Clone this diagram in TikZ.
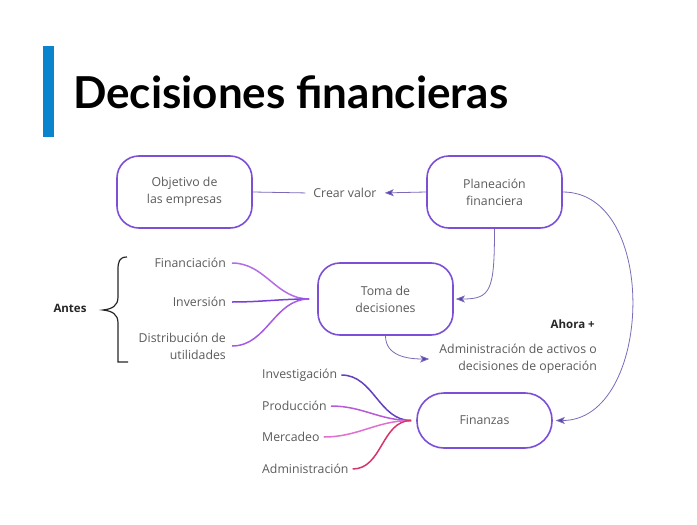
\documentclass[tikz,border=0pt]{standalone}
\usepackage{fontspec}
\setmainfont{Open Sans}
\newfontfamily\titlefont{Lato}
\usetikzlibrary{arrows.meta}

\definecolor{boxline}{HTML}{7B4FD6}
\definecolor{txtgray}{HTML}{5A5A5A}
\definecolor{arrowline}{HTML}{7A6AB8}
\definecolor{arrowhead}{HTML}{5B3FB0}
\definecolor{barblue}{HTML}{0A84CC}
\definecolor{finc}{HTML}{B36BE6}
\definecolor{invc}{HTML}{7A3FD8}
\definecolor{distc}{HTML}{A45AE6}
\definecolor{invesc}{HTML}{6240C0}
\definecolor{prodc}{HTML}{B75AD8}
\definecolor{mercc}{HTML}{E070D0}
\definecolor{adminc}{HTML}{D6336C}

\tikzset{
    box/.style={draw=boxline, line width=1.6pt, rounded corners=22pt,
        minimum width=135pt, minimum height=72pt, align=center,
        text=txtgray, font=\fontsize{12.3}{17}\selectfont},
    label/.style={text=txtgray, inner sep=4pt, align=right,
        font=\fontsize{12.3}{17}\selectfont},
    boldlabel/.style={text=black!85, inner sep=2pt,
        font=\fontsize{11.5}{14}\selectfont\bfseries},
    arrow/.style={draw=arrowline, line width=0.8pt,
        -{Stealth[length=9pt,width=7pt,inset=2pt,fill=arrowhead]}},
    branch/.style={line width=1.5pt}
}

\begin{document}
\begin{tikzpicture}[x=1pt,y=-1pt]
    \useasboundingbox (0,0) rectangle (697,525);

    % title
    \fill[barblue] (43,46) rectangle (54,137);
    \node[anchor=base west, inner sep=0pt, font=\titlefont\fontsize{44}{50}\selectfont\bfseries]
        (titulo) at (73,108) {Decisiones financieras};

    % main boxes
    \node[box] (objetivo) at (184.5,192) {Objetivo de\\las empresas};
    \node[box] (planeacion) at (494.5,192) {Planeación\\financiera};
    \node[label] (crear) at (345,193) {Crear valor};
    \node[box] (toma) at (385.5,299) {Toma de\\decisiones};
    \node[box, minimum height=55pt, rounded corners=27pt] (finanzas) at (484.5,420.5) {Finanzas};

    \draw[arrowline, line width=0.8pt, shorten >=4pt] (objetivo.east) -- (crear.west);
    \draw[arrow, shorten >=4pt] (planeacion.west) -- (crear.east);
    \draw[arrow] (planeacion.south) .. controls +(0,62) and +(35,0) .. ([xshift=2pt]toma.east);
    \draw[arrow] (planeacion.east) .. controls +(97,0) and +(97,0) .. ([xshift=3pt]finanzas.east);

    % ahora
    \node[boldlabel, anchor=east] (ahora) at (597,324) {Ahora +};
    \node[label, anchor=east] (admin) at (601,359) {Administración de activos o\\decisiones de operación};
    \draw[arrow] (toma.south) .. controls +(0,20) and +(-22,0) .. ([xshift=-6pt]admin.west);

    % antes
    \node[boldlabel] (antes) at (70,308) {Antes};
    \draw[black!85, line width=1.2pt] (127,257) .. controls (119,257) and (118,262) .. (118,270)
        -- (118,297) .. controls (118,306) and (112,309) .. (103,310)
        .. controls (112,311) and (118,314) .. (118,323) -- (118,362) -- (128,362);

    \node[label, anchor=east] (fin) at (230,263) {Financiación};
    \node[label, anchor=east] (inv) at (230,302) {Inversión};
    \node[label, anchor=east] (dist) at (230,346) {Distribución de\\utilidades};
    \coordinate (tomain) at ([xshift=-8pt]toma.west);
    \draw[branch, finc] ([xshift=2pt]fin.east) to[out=0,in=180] (tomain);
    \draw[branch, invc] ([xshift=2pt]inv.east) to[out=0,in=180] (tomain);
    \draw[branch, distc] ([xshift=2pt]dist.east) to[out=0,in=180] (tomain);

    % areas
    \node[label, anchor=west] (investigacion) at (258,375) {Investigación};
    \node[label, anchor=west] (produccion) at (258,406) {Producción};
    \node[label, anchor=west] (mercadeo) at (258,437) {Mercadeo};
    \node[label, anchor=west] (administracion) at (258,469) {Administración};
    \coordinate (finin) at ([xshift=-5pt]finanzas.west);
    \draw[branch, invesc] (investigacion.east) to[out=0,in=180] (finin);
    \draw[branch, prodc] (produccion.east) to[out=0,in=180] (finin);
    \draw[branch, mercc] (mercadeo.east) to[out=0,in=180] (finin);
    \draw[branch, adminc] (administracion.east) to[out=0,in=180] (finin);
\end{tikzpicture}
\end{document}
